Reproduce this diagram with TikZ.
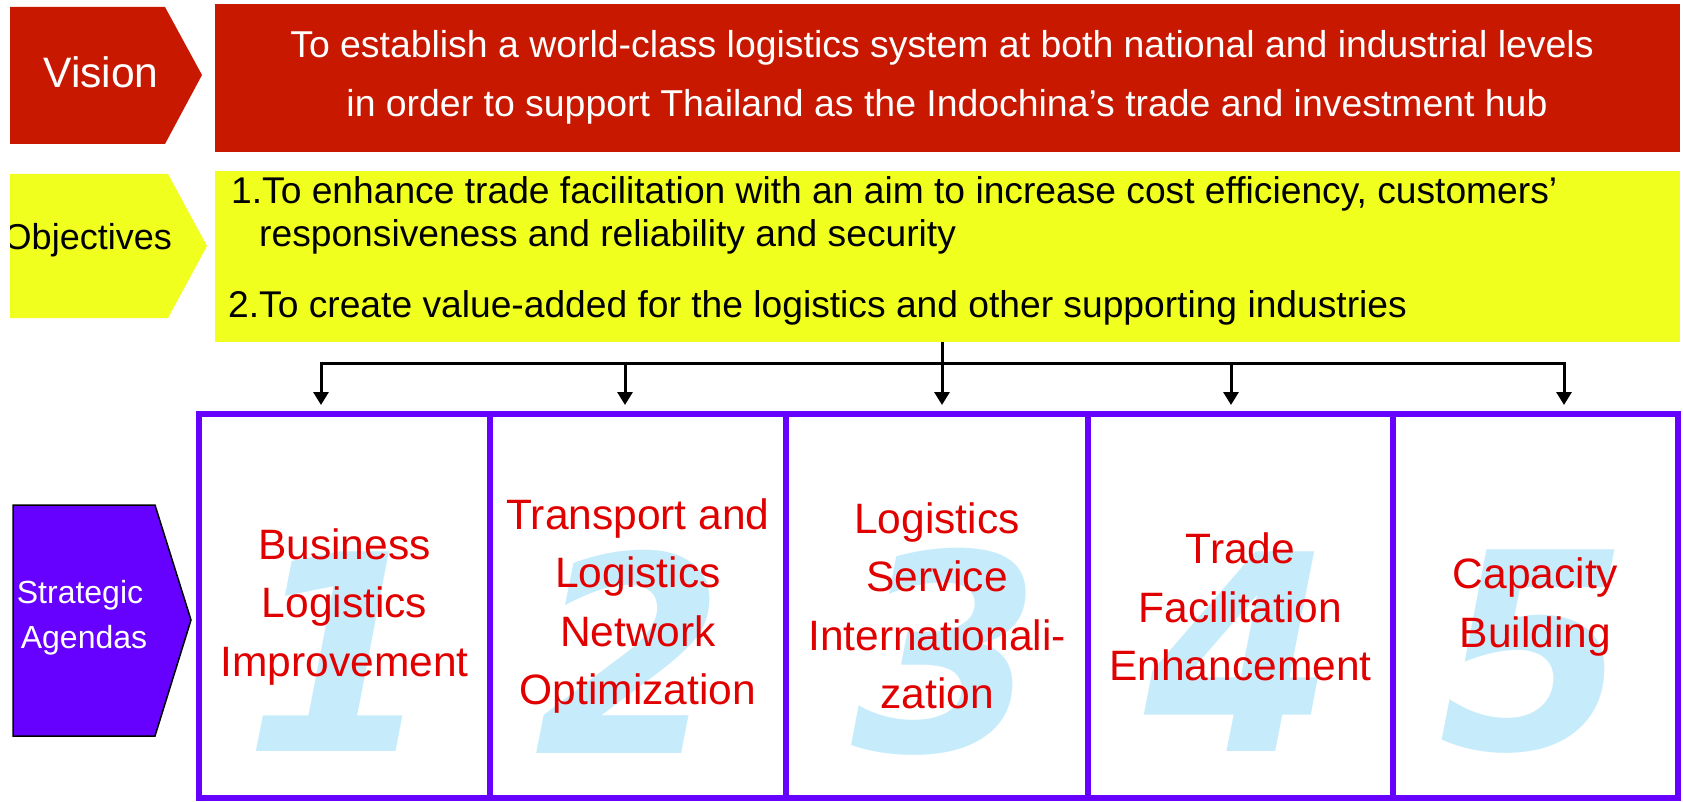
\documentclass[tikz,border=0pt]{standalone}
\usepackage{fontspec}
\setmainfont{Liberation Sans}
\newfontfamily\numfont{DejaVu Sans}
\usetikzlibrary{arrows.meta}
\definecolor{visred}{RGB}{200,24,0}
\definecolor{objyellow}{RGB}{240,255,30}
\definecolor{agpurple}{RGB}{102,0,255}
\definecolor{lblred}{RGB}{224,0,0}
\definecolor{numblue}{RGB}{198,236,252}
\begin{document}
\begin{tikzpicture}[x=1pt,y=-1pt,
  vtext/.style={inner sep=0pt,text=white,font=\fontsize{37.4}{45}\selectfont},
  otext/.style={inner sep=0pt,text=black,font=\fontsize{37.2}{45}\selectfont,anchor=base west},
  agbox/.style={draw=agpurple,line width=6pt,inner sep=0pt,minimum height=384pt},
  numst/.style={inner sep=0pt,text=numblue,font=\fontsize{274}{274}\numfont\bfseries\itshape},
  lbl/.style={inner sep=0pt,text=lblred,align=center,font=\fontsize{42.5}{58.5}\selectfont},
  arr/.style={line width=3pt,-{Triangle[width=15pt,length=13pt]}}]
\useasboundingbox (0,0) rectangle (1683,802);

% Vision
\fill[visred] (10,7) -- (165,7) -- (202,75) -- (165,144) -- (10,144) -- cycle;
\node[inner sep=0pt,text=white,font=\fontsize{42.6}{50}\selectfont,anchor=base] (vlabel) at (101,88) {Vision};
\node[fill=visred,minimum width=1465pt,minimum height=148pt,inner sep=0pt] (vision) at (947.5,78) {};
\node[vtext,anchor=base] (v1) at (942,58) {To establish a world-class logistics system at both national and industrial levels};
\node[vtext,anchor=base] (v2) at (947,117) {in order to support Thailand as the Indochina’s trade and investment hub};

% Objectives
\fill[objyellow] (10,174) -- (168,174) -- (207,246) -- (168,318) -- (10,318) -- cycle;
\begin{scope}
\clip (10,174) -- (168,174) -- (207,246) -- (168,318) -- (10,318) -- cycle;
\node[inner sep=0pt,text=black,font=\fontsize{36}{44}\selectfont,anchor=base east] (olabel) at (172,250) {Objectives};
\end{scope}
\node[fill=objyellow,minimum width=1465pt,minimum height=171pt,inner sep=0pt] (objectives) at (947.5,256.5) {};
\node[otext] (o1) at (231,204) {1.To enhance trade facilitation with an aim to increase cost efficiency, customers’};
\node[otext] (o2) at (259,247) {responsiveness and reliability and security};
\node[otext] (o3) at (228,317) {2.To create value-added for the logistics and other supporting industries};

% Strategic agendas
\filldraw[fill=agpurple,draw=black,line width=1.5pt] (13,505) -- (155,505) -- (191,620) -- (155,736) -- (13,736) -- cycle;
\node[inner sep=0pt,text=white,font=\fontsize{32}{40}\selectfont,anchor=base] (s1) at (80,603) {Strategic};
\node[inner sep=0pt,text=white,font=\fontsize{32}{40}\selectfont,anchor=base] (s2) at (84,648) {Agendas};

% big numerals
\node[numst] (n1) at (340,652) {1};
\node[numst] (n2) at (630,652) {2};
\node[numst] (n3) at (947,652) {3};
\node[numst] (n4) at (1240,652) {4};
\node[numst] (n5) at (1534,652) {5};

% boxes
\node[agbox,minimum width=291pt] (b1) at (344.5,606) {};
\node[agbox,minimum width=296pt] (b2) at (638,606) {};
\node[agbox,minimum width=302pt] (b3) at (937,606) {};
\node[agbox,minimum width=305pt] (b4) at (1240.5,606) {};
\node[agbox,minimum width=285pt] (b5) at (1535.5,606) {};

% labels
\node[lbl] (l1) at ([yshift=-1pt]b1.center) {Business\\Logistics\\Improvement};
\node[lbl] (l2) at ([yshift=0pt]b2.center) {Transport and\\Logistics\\Network\\Optimization};
\node[lbl] (l3) at ([yshift=0pt]b3.center) {Logistics\\Service\\Internationali-\\zation};
\node[lbl] (l4) at ([yshift=-1pt]b4.center) {Trade\\Facilitation\\Enhancement};
\node[lbl] (l5) at ([yshift=-1pt]b5.center) {Capacity\\Building};

% connectors
\coordinate (h1) at (321,363);
\coordinate (h2) at (625,363);
\coordinate (h3) at (942,363);
\coordinate (h4) at (1231,363);
\coordinate (h5) at (1564,363);
\coordinate (t1) at (321,405);
\coordinate (t2) at (625,405);
\coordinate (t3) at (942,405);
\coordinate (t4) at (1231,405);
\coordinate (t5) at (1564,405);
\draw[arr] (objectives.south -| h3) -- (t3);
\draw[arr] (h3) -| (t1);
\draw[arr] (h3) -| (t5);
\draw[arr] (h2) -- (t2);
\draw[arr] (h4) -- (t4);
\end{tikzpicture}
\end{document}
